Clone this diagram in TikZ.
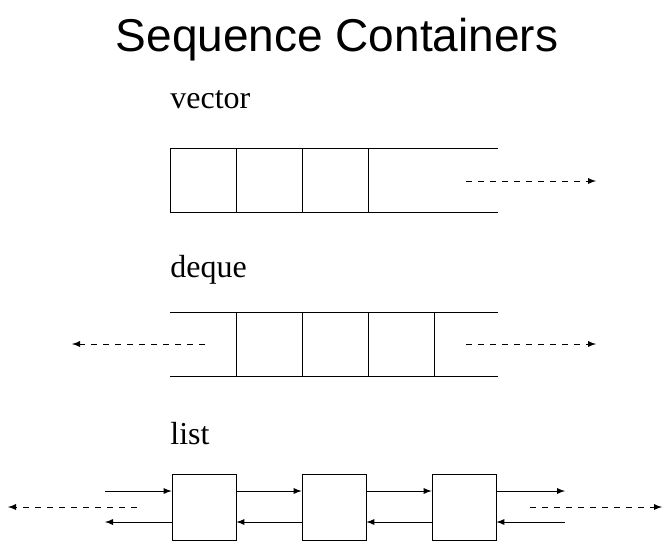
\documentclass[tikz,border=0pt]{standalone}
\usepackage{fontspec}
\setmainfont{Liberation Serif}
\setsansfont{Liberation Sans}
\usetikzlibrary{positioning}

\begin{document}
\begin{tikzpicture}[x=0.5pt, y=-0.5pt, >=latex, thin,
    lbl/.style={anchor=base west, inner sep=0pt, font=\fontsize{16}{20}\selectfont},
    cell/.style={draw, minimum width=32pt, minimum height=33pt, inner sep=0pt},
    growth/.style={->, dashed}]
    \useasboundingbox (0, 0) rectangle (672, 553);
    \node[font=\sffamily\fontsize{23}{26}\selectfont] (title) at (337, 40) {Sequence Containers};
    % vector
    \node[lbl] (vlbl) at (170, 108) {vector};
    \draw (498, 148) -- (170, 148) -- (170, 212) -- (498, 212);
    \foreach \x in {236, 302, 368}
        \draw (\x, 148) -- (\x, 212);
    \coordinate (v1) at (466, 181);
    \coordinate (v2) at (596, 181);
    \draw[growth] (v1) -- (v2);
    % deque
    \node[lbl] (dlbl) at (170, 277) {deque};
    \draw (170, 312) -- (498, 312);
    \draw (170, 376) -- (498, 376);
    \foreach \x in {236, 302, 368, 434}
        \draw (\x, 312) -- (\x, 376);
    \coordinate (d1) at (205, 344);
    \coordinate (d2) at (72, 344);
    \coordinate (d3) at (466, 344);
    \coordinate (d4) at (596, 344);
    \draw[growth] (d1) -- (d2);
    \draw[growth] (d3) -- (d4);
    % list
    \node[lbl] (llbl) at (170, 444) {list};
    \node[cell] (n1) at (204, 507) {};
    \node[cell] (n2) at (334, 507) {};
    \node[cell] (n3) at (464, 507) {};
    \coordinate (l0) at (105, 507);
    \coordinate (l4) at (565, 507);
    \draw[->] ([yshift=8pt]l0) -- ([yshift=8pt]n1.west);
    \draw[->] ([yshift=-7.5pt]n1.west) -- ([yshift=-7.5pt]l0);
    \draw[->] ([yshift=8pt]n1.east) -- ([yshift=8pt]n2.west);
    \draw[->] ([yshift=-7.5pt]n2.west) -- ([yshift=-7.5pt]n1.east);
    \draw[->] ([yshift=8pt]n2.east) -- ([yshift=8pt]n3.west);
    \draw[->] ([yshift=-7.5pt]n3.west) -- ([yshift=-7.5pt]n2.east);
    \draw[->] ([yshift=8pt]n3.east) -- ([yshift=8pt]l4);
    \draw[->] ([yshift=-7.5pt]l4) -- ([yshift=-7.5pt]n3.east);
    \coordinate (e1) at (137, 507);
    \coordinate (e2) at (8, 507);
    \coordinate (e3) at (530, 507);
    \coordinate (e4) at (662, 507);
    \draw[growth] (e1) -- (e2);
    \draw[growth] (e3) -- (e4);
\end{tikzpicture}
\end{document}
